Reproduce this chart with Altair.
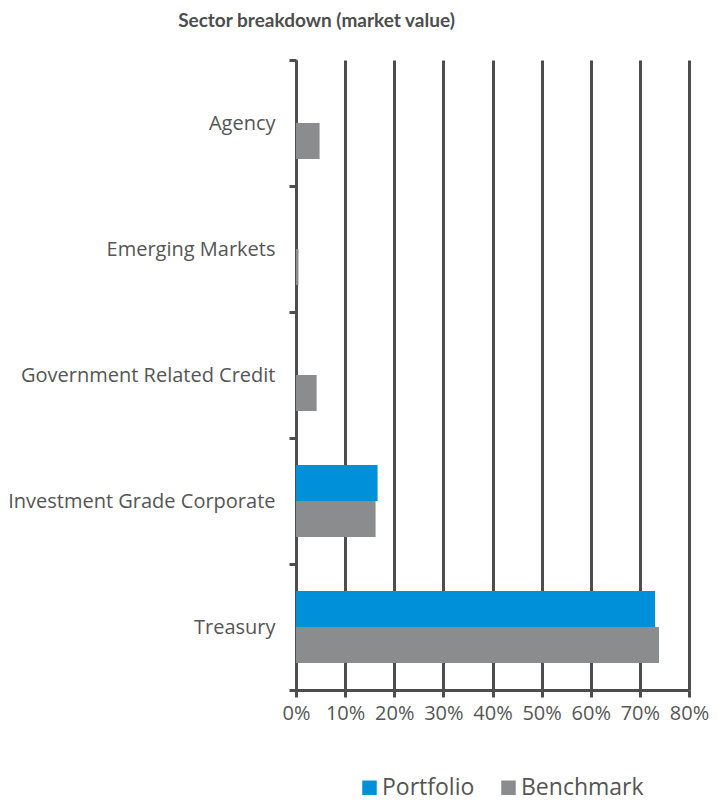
import altair as alt
import pandas as pd

sectors = ["Agency", "Emerging Markets", "Government Related Credit",
           "Investment Grade Corporate", "Treasury"]
portfolio = [0.0, 0.0, 0.0, 16.6, 73.1]
benchmark = [4.8, 0.5, 4.2, 16.2, 73.9]
series = ["Portfolio", "Benchmark"]
colors = ["#0090DA", "#8A8C8E"]
x_ticks = [0, 10, 20, 30, 40, 50, 60, 70, 80]

rows = []
for s, p, b in zip(sectors, portfolio, benchmark):
    rows.append({"Sector": s, "Series": "Portfolio", "Value": p})
    rows.append({"Sector": s, "Series": "Benchmark", "Value": b})
df = pd.DataFrame(rows)

FONT = "Open Sans"
AXIS_COLOR = "#4D4D4D"
TEXT_COLOR = "#555555"

chart = alt.Chart(df).mark_bar().encode(
    x=alt.X("Value:Q",
            scale=alt.Scale(domain=[0, 80], nice=False),
            axis=alt.Axis(values=x_ticks, labelExpr="datum.value + '%'",
                          title=None, grid=True, gridColor=AXIS_COLOR,
                          gridWidth=3, gridOpacity=1, domainColor=AXIS_COLOR,
                          domainWidth=3, tickColor=AXIS_COLOR, tickWidth=3,
                          tickSize=7, labelFontSize=20, labelFont=FONT,
                          labelColor=TEXT_COLOR, labelPadding=6,
                          labelFlush=False)),
    y=alt.Y("Sector:N", sort=sectors,
            scale=alt.Scale(paddingInner=0, paddingOuter=0),
            axis=alt.Axis(title=None, tickBand="extent", domainColor=AXIS_COLOR,
                          domainWidth=3, tickColor=AXIS_COLOR, tickWidth=3,
                          tickSize=7, labelFontSize=20, labelFont=FONT,
                          labelColor=TEXT_COLOR, labelPadding=14,
                          labelLimit=400, grid=False)),
    yOffset=alt.YOffset("Series:N", sort=series,
                        scale=alt.Scale(paddingOuter=0.75, paddingInner=0)),
    color=alt.Color("Series:N", sort=series,
                    scale=alt.Scale(domain=series, range=colors),
                    legend=alt.Legend(title=None, orient="none",
                                      direction="horizontal",
                                      legendX=62, legendY=716,
                                      symbolType="square", symbolSize=210,
                                      symbolStrokeWidth=0, symbolOpacity=1,
                                      labelFontSize=23, labelFont=FONT,
                                      labelColor=TEXT_COLOR, labelOffset=1,
                                      columnPadding=22)),
).properties(
    width=393,
    height=630,
    title=alt.TitleParams("Sector breakdown (market value)",
                          font="Lato", fontSize=19, fontWeight="bold",
                          color="#4D4D4D", anchor="middle", dx=-176, offset=19),
    autosize=alt.AutoSizeParams(type="none"),
    padding={"left": 288, "top": 52, "right": 20, "bottom": 113},
).configure_view(stroke=None)

chart.save("out.html", embed_options={"renderer": "svg", "actions": False})
